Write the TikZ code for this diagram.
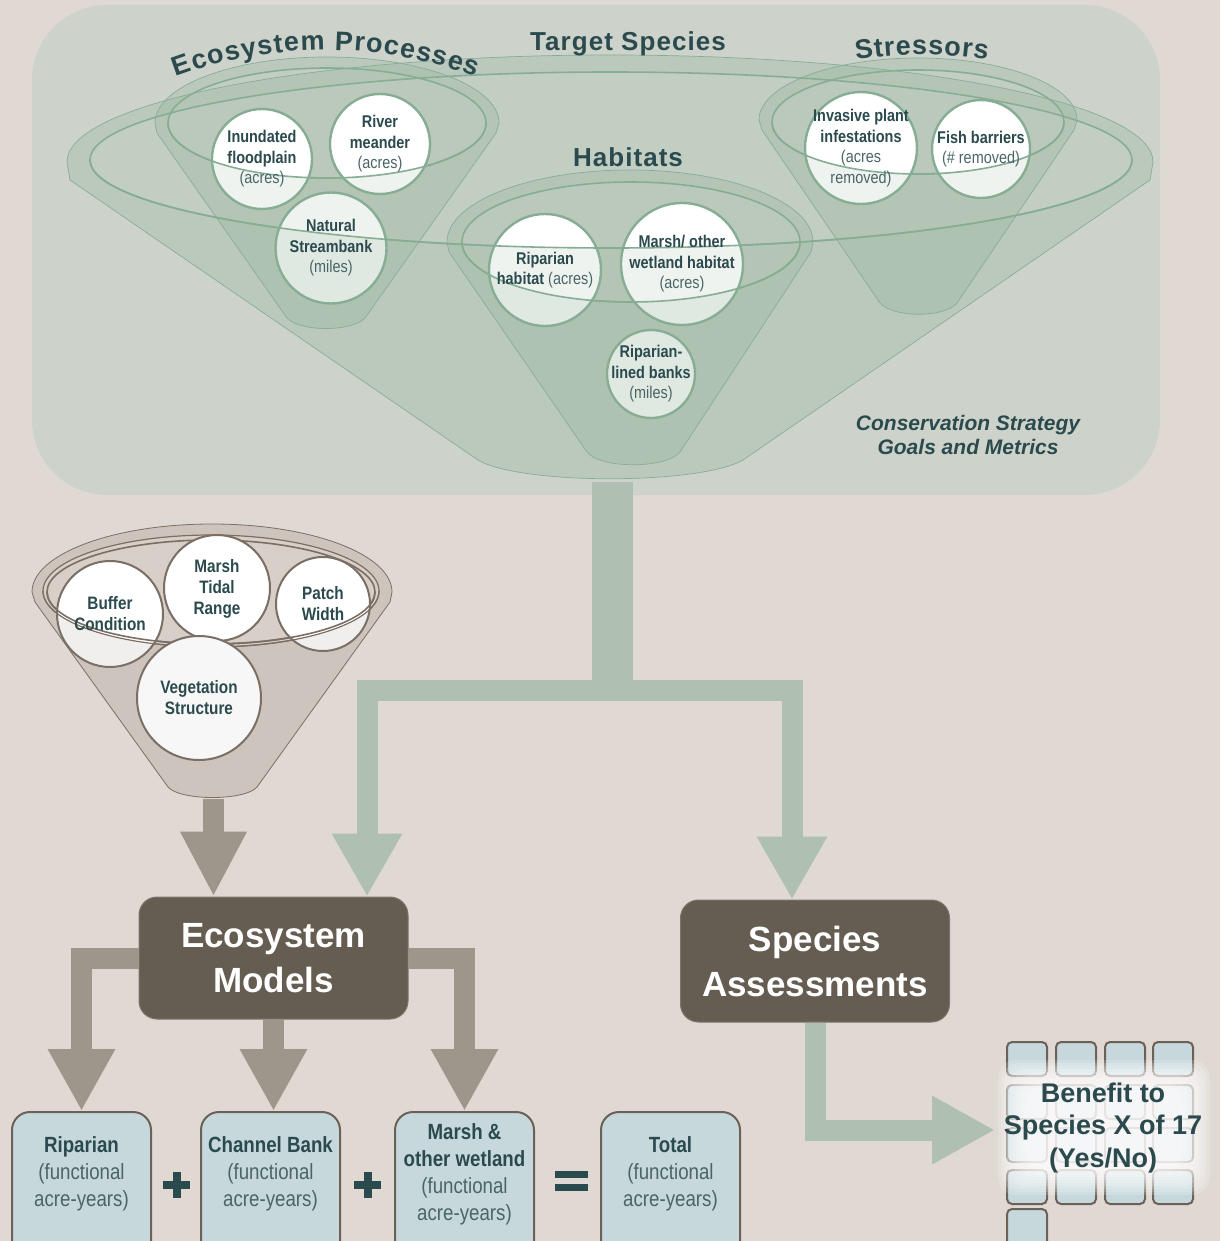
\documentclass[tikz,border=0pt]{standalone}
\usepackage{fontspec}
\setmainfont{Liberation Sans}
\newfontfamily\nar{Liberation Sans}[FakeStretch=0.85]
\newfontfamily\ttl{Liberation Sans}[LetterSpace=4]
\usetikzlibrary{arrows.meta,decorations.text}
\definecolor{pagebg}{HTML}{E0D9D3}
\definecolor{panel}{HTML}{CDD3CA}
\definecolor{gl}{HTML}{86AD94}
\definecolor{gf}{HTML}{8FB39A}
\definecolor{ink}{HTML}{2B4A4E}
\definecolor{inkl}{HTML}{4A6566}
\definecolor{brownbox}{HTML}{665D52}
\definecolor{brownarrow}{HTML}{9E958B}
\definecolor{greenarrow}{HTML}{AFBFB2}
\definecolor{lblue}{HTML}{C6D8DC}
\definecolor{boxline}{HTML}{6B6157}
\definecolor{bfun}{HTML}{D7CFC8}
\definecolor{bline}{HTML}{7A6E65}
\definecolor{bdark}{HTML}{8C7E72}
\newcommand\curvettl{\fontsize{27}{30}\selectfont\bfseries\color{ink}}
\newcommand\bb{\bfseries\color{ink}}
\newcommand\lite{\mdseries\color{inkl}}
\begin{document}
\begin{tikzpicture}[x=1pt,y=-1pt]
\tikzset{
 gfill/.style={fill=gf, fill opacity=0.15},
 gline/.style={draw=gl, line width=0.7pt},
 grim/.style={draw=gl, line width=1.6pt},
 gcirc/.style={circle, draw=gl, line width=2.4pt, fill=white, inner sep=0pt},
 clab/.style={align=center, text=ink, font=\nar\fontsize{17}{20.5}\selectfont, inner sep=0pt},
 bcirc/.style={circle, draw=bline, line width=2pt, fill=white, inner sep=0pt},
 blab/.style={align=center, text=ink, font=\nar\fontsize{18}{21}\selectfont\bfseries, inner sep=0pt},
 darkbox/.style={rounded corners=18pt, fill=brownbox, draw=brownbox!85!white, line width=1pt, text=white, align=center, font=\fontsize{35}{45}\selectfont\bfseries, inner sep=0pt, minimum width=269pt, minimum height=122pt},
 bluebox/.style={rounded corners=18pt, fill=lblue, draw=boxline, line width=2pt, minimum width=139pt, minimum height=152pt, inner sep=0pt},
 boxlab/.style={align=center, text=ink, font=\nar\fontsize{22}{27}\selectfont, inner sep=0pt},
 garrow/.style={draw=greenarrow, line width=21pt, line join=miter, -{Triangle[width=66pt,length=63pt]}},
 barrow/.style={draw=brownarrow, line width=21pt, line join=miter, -{Triangle[width=63pt,length=62pt]}},
 sq/.style={rounded corners=5pt, fill=lblue, draw=boxline, line width=2pt},
 ttlnode/.style={font=\ttl\fontsize{26}{30}\selectfont\bfseries, text=ink, inner sep=0pt},
 sBig/.style={insert path={(67,162) arc[start angle=180,end angle=360,x radius=543,y radius=107] -- (1150,180) -- (743,460) .. controls (700,485) and (520,485) .. (478,460) -- (70,180) -- cycle}},
 sEco/.style={insert path={(155,123) arc[start angle=180,end angle=360,x radius=172,y radius=66] -- (496,133) -- (365,318) .. controls (352,332) and (300,332) .. (287,318) -- (157,133) -- cycle}},
 sHab/.style={insert path={(447,242) arc[start angle=180,end angle=360,x radius=183,y radius=72] -- (811,252) -- (680,452) .. controls (666,469) and (600,469) .. (587,452) -- (449,252) -- cycle}},
 sStr/.style={insert path={(759,120) arc[start angle=180,end angle=360,x radius=159,y radius=62] -- (1074,130) -- (957,303) .. controls (945,318) and (893,318) .. (880,303) -- (762,130) -- cycle}},
 sBrn/.style={insert path={(32,592) arc[start angle=180,end angle=360,x radius=180,y radius=68] -- (390,602) -- (257,787) .. controls (245,801) and (180,801) .. (168,787) -- (35,602) -- cycle}},
}
\useasboundingbox (0,0) rectangle (1220,1241);
\clip (0,0) rectangle (1220,1241);
\fill[pagebg] (0,0) rectangle (1220,1241);

% ---------- top panel ----------
\node[fill=panel, rounded corners=75pt, minimum width=1128pt, minimum height=490pt, inner sep=0pt] (goals) at (596,250) {};

\coordinate (gsL) at (602,482);
\coordinate (gcL) at (602,690);
\coordinate (gtL) at (367,690);
\coordinate (gsR) at (622,482);
\coordinate (gcR) at (622,690);
\coordinate (gtR) at (792,690);

% back of funnels
\path[gfill, sBig]; \draw[gline, sBig];
\draw[grim] (611,160) ellipse[x radius=521,y radius=88];
\path[gfill, sEco]; \draw[gline, sEco];
\draw[grim] (327,123) ellipse[x radius=159,y radius=55];
\path[gfill, sHab]; \draw[gline, sHab];
\draw[grim] (631,242) ellipse[x radius=169,y radius=60];
\path[gfill, sStr]; \draw[gline, sStr];
\draw[grim] (918,122) ellipse[x radius=146,y radius=52];

% circles
\node[gcirc, minimum size=100pt] (cInund) at (262,159) {};
\node[gcirc, minimum size=100pt] (cRiver) at (380,144) {};
\node[gcirc, minimum size=111pt] (cStream) at (331,248) {};
\node[gcirc, minimum size=112pt] (cRip) at (545,270) {};
\node[gcirc, minimum size=122pt] (cMarsh) at (682,264) {};
\node[gcirc, minimum size=88pt] (cBanks) at (651,374) {};
\node[gcirc, minimum size=112pt] (cInv) at (861,148) {};
\node[gcirc, minimum size=98pt] (cFish) at (981,149) {};

% front of funnels
\path[gfill, even odd rule, sBig] (611,160) ellipse[x radius=521,y radius=88];
\draw[grim] (1132,160) arc[start angle=0,end angle=180,x radius=521,y radius=88];
\path[gfill, even odd rule, sEco] (327,123) ellipse[x radius=159,y radius=55];
\draw[grim] (486,123) arc[start angle=0,end angle=180,x radius=159,y radius=55];
\path[gfill, even odd rule, sHab] (631,242) ellipse[x radius=169,y radius=60];
\draw[grim] (800,242) arc[start angle=0,end angle=180,x radius=169,y radius=60];
\path[gfill, even odd rule, sStr] (918,122) ellipse[x radius=146,y radius=52];
\draw[grim] (1064,122) arc[start angle=0,end angle=180,x radius=146,y radius=52];

% circle labels
\node[clab] (tInund) at (cInund) {\bb Inundated\\\bb floodplain\\\lite (acres)};
\node[clab] (tRiver) at (cRiver) {\bb River\\\bb meander\\\lite (acres)};
\node[clab] (tStream) at (cStream) {\bb Natural\\\bb Streambank\\\lite (miles)};
\node[clab] (tRip) at (cRip) {\bb Riparian\\\bb habitat {\lite (acres)}};
\node[clab] (tMarsh) at (cMarsh) {\bb Marsh/ other\\\bb wetland habitat\\\lite (acres)};
\node[clab] (tBanks) at (cBanks) {\bb Riparian-\\\bb lined banks\\\lite (miles)};
\node[clab] (tInv) at (cInv) {\bb Invasive plant\\\bb infestations\\\lite (acres\\\lite removed)};
\node[clab] (tFish) at (cFish) {\bb Fish barriers\\\lite (\# removed)};

% titles
\path[decorate, decoration={text along path, text={|\curvettl|Ecosystem Processes}, text align={fit to path}}] (176,77) arc[start angle=-110.4,end angle=-69.6,radius=430];
\path[decorate, decoration={text along path, text={|\curvettl|Stressors}, text align={fit to path}}] (856,60) arc[start angle=-98.8,end angle=-81.2,radius=430];
\node[ttlnode, anchor=base] (tTarget) at (628,51) {Target Species};
\node[ttlnode, anchor=base] (tHab) at (628,167) {Habitats};
\node[font=\fontsize{21}{24}\selectfont\bfseries\itshape, text=ink, align=center, inner sep=0pt] (tCons) at (968,435) {Conservation Strategy\\Goals and Metrics};

% ---------- brown funnel ----------
\path[fill=bfun, sBrn]; \draw[draw=bline, line width=0.8pt, sBrn];
\draw[bline, line width=1.2pt] (211,591) ellipse[x radius=168,y radius=56];
\draw[bline, line width=1.6pt] (211,592) ellipse[x radius=164,y radius=52];
\node[bcirc, minimum size=106pt] (cBuf) at (110,614) {};
\node[bcirc, minimum size=106pt] (cTide) at (217,588) {};
\node[bcirc, minimum size=94pt] (cPatch) at (323,604) {};
\path[fill=bdark, fill opacity=0.12, even odd rule, sBrn] (211,591) ellipse[x radius=168,y radius=56];
\draw[bline, line width=1.2pt] (379,591) arc[start angle=0,end angle=180,x radius=168,y radius=56];
\draw[bline, line width=1.6pt] (375,592) arc[start angle=0,end angle=180,x radius=164,y radius=52];
\node[bcirc, minimum size=124pt, fill=white!94!bdark] (cVeg) at (199,698) {};
\node[blab] (tBuf) at (cBuf) {Buffer\\Condition};
\node[blab] (tTide) at (217,589) {Marsh\\Tidal\\Range};
\node[blab] (tPatch) at (cPatch) {Patch\\Width};
\node[blab] (tVeg) at (cVeg) {Vegetation\\Structure};
\coordinate (bfBottom) at (213.5,799);

% ---------- boxes ----------
\node[darkbox] (em) at (273.5,958) {Ecosystem\\Models};
\node[darkbox] (sa) at (815,961) {Species\\Assessments};

\node[bluebox] (rip) at (81.5,1188) {};
\node[bluebox] (chb) at (270.5,1188) {};
\node[bluebox] (msh) at (464.5,1188) {};
\node[bluebox] (tot) at (670.5,1188) {};
\node[boxlab] (tRipB) at (81.5,1174) {\bb Riparian\\\lite (functional\\\lite acre-years)};
\node[boxlab] (tChb) at (270.5,1174) {\bb Channel Bank\\\lite (functional\\\lite acre-years)};
\node[boxlab] (tMsh) at (464.5,1174) {\bb Marsh \&\\\bb other wetland\\\lite (functional\\\lite acre-years)};
\node[boxlab] (tTot) at (670.5,1174) {\bb Total\\\lite (functional\\\lite acre-years)};

% operators
\fill[ink] (163,1181) rectangle (190,1189);
\fill[ink] (172.5,1172) rectangle (180.5,1198);
\fill[ink] (354,1181) rectangle (381,1189);
\fill[ink] (363.5,1172) rectangle (371.5,1198);
\fill[ink] (555,1171) rectangle (588,1178);
\fill[ink] (555,1184) rectangle (588,1191);

% ---------- benefit grid ----------
\foreach \cx in {1007,1056,1105,1153} {
  \foreach \cy in {1042,1085,1128,1170} {
    \draw[sq] (\cx,\cy) rectangle ++(40,34);
  }
}
\draw[sq] (1007,1209) rectangle ++(40,40);
\foreach \i in {0,...,9} {
  \fill[white, opacity=0.17, rounded corners=18pt] ({998+3*\i},{1060+3*\i}) rectangle ({1210-3*\i},{1195-3*\i});
}
\node[font=\fontsize{27}{32.5}\selectfont\bfseries, text=ink, align=center, inner sep=0pt] (ben) at (1103,1128) {Benefit to\\Species X of 17\\(Yes/No)};
\coordinate (benIn) at (995,1130);

% ---------- connectors ----------
\draw[garrow] (gsL) -- (gcL) -- (gtL) -- (gtL |- em.north);
\draw[garrow] (gsR) -- (gcR) -- (gtR) -- (gtR |- sa.north);
\draw[barrow, -{Triangle[width=62pt,length=65pt]}] (bfBottom) -- (bfBottom |- em.north);
\draw[barrow] (em.west) -| (rip.north);
\draw[barrow] (em.south) -- (em.south |- chb.north);
\draw[barrow] (em.east) -| (msh.north);
\draw[garrow, -{Triangle[width=64pt,length=63pt]}] (sa.south) |- (benIn);
\end{tikzpicture}
\end{document}
